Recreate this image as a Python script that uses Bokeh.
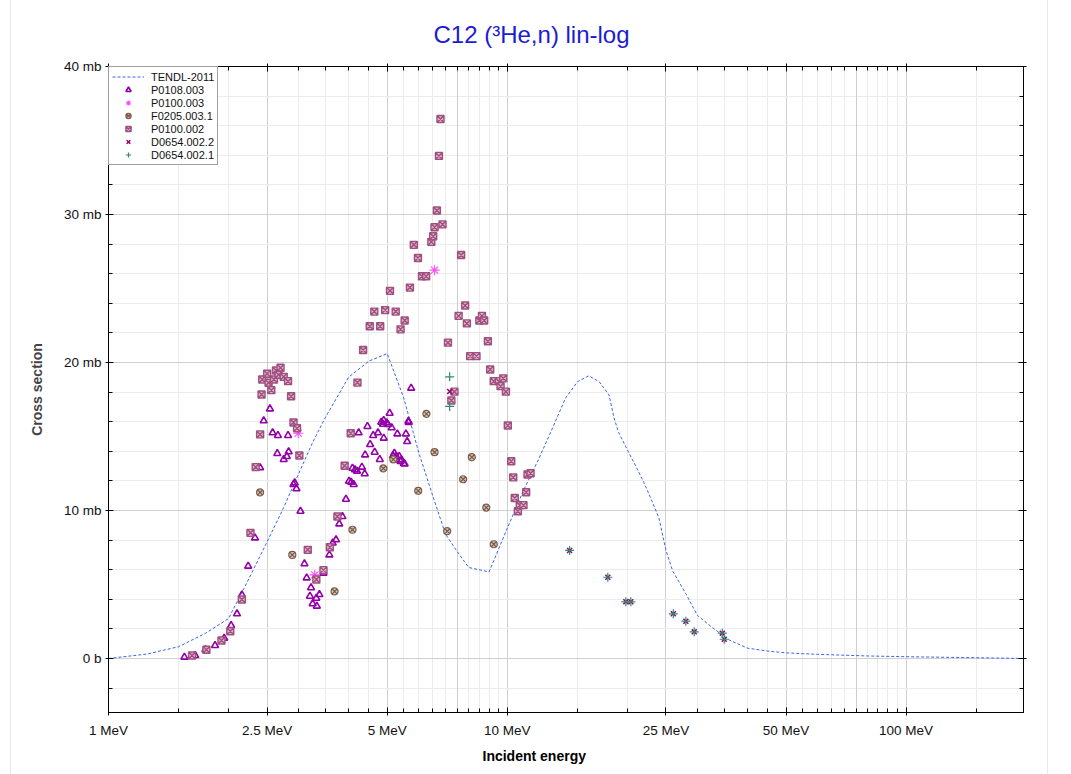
from bokeh.plotting import figure
from bokeh.models import (FixedTicker, LogAxis, LinearAxis, Grid, Legend, LegendItem,
                          Title, CustomJSTickFormatter, Range1d)
from bokeh.embed import file_html
from bokeh.resources import INLINE

FONT = "Liberation Sans"

# ---------------- data ----------------
tendl_e = [1.0, 1.25, 1.5, 1.75, 2.0, 2.25, 2.5, 2.75, 3.0, 3.25, 3.5, 4.0, 4.5, 5.0,
           5.5, 6.0, 6.5, 7.0, 7.5, 8.0, 9.0, 10.0, 11.0, 12.0, 13.0, 14.0, 15.0, 16.0,
           17.0, 18.0, 18.5, 19.0, 20.0, 21.0, 22.0, 23.0, 24.0, 25.0, 26.0, 28.0, 30.0,
           33.0, 36.0, 40.0, 45.0, 50.0, 60.0, 80.0, 100.0, 150.0, 197.0]
tendl_s = [0.0, 0.3, 0.8, 1.7, 2.7, 5.4, 7.9, 10.2, 12.5, 14.6, 16.3, 19.0, 20.1, 20.6,
           17.6, 13.9, 11.0, 8.4, 7.2, 6.15, 5.85, 8.8, 11.4, 13.5, 15.6, 17.6, 18.7, 19.1,
           18.7, 17.8, 16.3, 15.3, 14.1, 13.0, 11.9, 10.7, 9.5, 7.3, 5.9, 4.4, 2.9,
           2.0, 1.25, 0.7, 0.5, 0.38, 0.28, 0.17, 0.12, 0.05, 0.0]

p0108_003_e = [1.55, 1.65, 1.75, 1.85, 1.95, 2.03, 2.10, 2.16, 2.24, 2.33,
               2.40, 2.45, 2.54, 2.58, 2.66, 2.82, 2.65, 2.75, 2.80, 2.83,
               2.91, 2.93, 2.96, 3.03, 3.10, 3.14, 3.22, 3.20, 3.32, 3.38,
               3.25, 3.33, 3.46, 3.58, 3.65, 3.72, 3.79, 3.86, 3.94, 4.01,
               4.06, 4.12, 4.09, 4.15, 4.20, 4.32, 4.39, 4.24, 4.40, 4.46,
               4.53, 4.61, 4.65, 4.74, 4.79, 4.83, 4.88, 4.90, 4.90, 4.98,
               5.02, 5.07, 5.13, 5.17, 5.21, 5.25, 5.27, 5.30, 5.36, 5.40,
               5.43, 5.50, 5.53, 5.57, 5.61, 5.65, 5.66, 5.74]
p0108_003_s = [0.09, 0.20, 0.59, 0.88, 1.37, 2.23, 3.02, 4.30, 6.24, 8.15,
               12.90, 16.06, 16.87, 15.25, 15.07, 15.07, 13.85, 13.45, 13.65, 13.97,
               11.76, 11.87, 11.47, 9.95, 6.40, 5.45, 4.78, 4.21, 4.07, 4.32,
               3.70, 3.54, 5.77, 7.00, 7.80, 8.02, 9.10, 9.59, 10.76, 11.98,
               11.91, 11.76, 12.86, 12.75, 12.66, 12.93, 12.48, 15.25, 13.76, 15.68,
               14.46, 15.07, 13.94, 15.25, 13.45, 15.97, 15.83, 16.08, 14.89, 15.93,
               15.81, 16.57, 15.59, 13.70, 13.87, 13.42, 13.65, 15.18, 13.65, 13.31,
               13.42, 13.18, 13.15, 15.18, 14.66, 16.04, 15.95, 18.27]

p0100_003_e = [2.99, 3.29, 6.57]
p0100_003_s = [15.22, 5.65, 26.24]

f0205_003_1_e = [2.40, 2.89, 3.69, 4.09, 4.89, 5.18, 5.98, 6.27, 6.57, 7.07,
                 7.75, 8.15, 8.86, 9.25]
f0205_003_1_s = [11.22, 7.00, 4.53, 8.70, 12.84, 13.45, 11.33, 16.53, 13.94, 8.60,
                 12.11, 13.60, 10.20, 7.72]

p0100_002_e = [1.62, 1.76, 1.92, 2.02, 2.16, 2.27, 2.34, 2.40, 2.42, 2.43,
               2.50, 2.52, 2.56, 2.60, 2.63, 2.70, 2.67, 2.75, 2.82, 2.87,
               2.91, 2.97, 3.01, 3.16, 3.32, 3.46, 3.59, 3.75, 3.91, 4.05,
               4.21, 4.35, 4.52, 4.80, 4.64, 4.94, 5.25, 5.08, 5.40, 5.53,
               5.70, 5.83, 5.97, 6.11, 6.26, 6.45, 6.52, 6.57, 6.66, 6.88,
               6.74, 6.80, 7.10, 7.24, 7.37, 7.55, 7.66, 7.84, 7.92, 8.07,
               8.37, 8.51, 8.64, 8.75, 8.94, 9.06, 9.25, 9.52, 9.62, 9.77,
               9.92, 10.03, 10.23, 10.35, 10.44, 10.63, 10.75, 10.98, 11.15, 11.24,
               11.44]
p0100_002_s = [0.20, 0.59, 1.22, 1.84, 3.99, 8.49, 12.93, 15.14, 17.84, 18.85,
               19.24, 18.63, 18.13, 18.85, 19.46, 19.64, 19.17, 19.03, 18.74, 17.72,
               15.95, 15.56, 13.72, 7.34, 5.34, 5.97, 7.52, 9.59, 13.02, 15.22,
               18.64, 20.84, 22.45, 22.45, 23.44, 23.54, 23.44, 24.84, 22.24, 22.84,
               25.06, 27.95, 27.06, 25.83, 25.83, 28.15, 28.53, 29.14, 30.27, 29.33,
               33.96, 36.45, 21.34, 17.43, 18.03, 23.15, 27.26, 23.85, 22.64, 20.43,
               20.43, 22.84, 23.15, 22.84, 21.44, 19.53, 18.74, 18.74, 18.40, 18.93,
               18.03, 15.74, 13.33, 12.24, 10.84, 9.95, 10.36, 10.36, 11.23, 12.43,
               12.52]

d0654_002_2_e = [7.17, 14.33, 17.87, 19.83, 20.41, 26.08, 28.04, 29.43, 34.6, 35.0]
d0654_002_2_s = [18.04, 7.30, 5.49, 3.83, 3.83, 3.02, 2.52, 1.80, 1.71, 1.30]

d0654_002_1_e = [7.17, 7.17, 14.33, 17.87, 19.83, 20.41, 26.08, 28.04, 29.43, 34.6, 35.0]
d0654_002_1_s = [19.03, 17.03, 7.30, 5.49, 3.83, 3.83, 3.02, 2.52, 1.80, 1.71, 1.30]

x_tick_values = [1, 2.5, 5, 10, 25, 50, 100]
x_tick_labels = ["1 MeV", "2.5 MeV", "5 MeV", "10 MeV", "25 MeV", "50 MeV", "100 MeV"]
x_minor_values = [1.5, 2, 3, 3.5, 4, 4.5, 5.5, 6, 6.5, 7, 7.5, 8, 8.5, 9, 9.5,
                  15, 20, 30, 35, 40, 45, 55, 60, 65, 70, 75, 80, 85, 90, 95, 150]
x_strong_grid = [7.5, 75]
y_tick_values = [0, 10, 20, 30, 40]
y_tick_labels = ["0 b", "10 mb", "20 mb", "30 mb", "40 mb"]
y_minor_values = [-2, 2, 4, 6, 8, 12, 14, 16, 18, 22, 24, 26, 28, 32, 34, 36, 38]

# ---------------- figure ----------------
p = figure(width=1036, height=774, x_axis_type="log",
           x_range=Range1d(1, 197), y_range=Range1d(-3.65, 40),
           output_backend="svg", toolbar_location=None,
           min_border_left=97, min_border_right=24, min_border_top=66, min_border_bottom=62,
           background_fill_color="white", border_fill_color="white")
p.margin = (0, 0, 0, 11)
p.styles = {"outline": "1px solid #e8e8e8"}
p.outline_line_color = "black"
p.outline_line_width = 1

p.title.text = "C12 (\u00b3He,n) lin-log"
p.title.align = "left"
p.title.offset = 325
p.title.standoff = 32
p.title.text_font = FONT
p.title.text_font_size = "24px"
p.title.text_font_style = "normal"
p.title.text_color = "#1c1cd4"

xticker = FixedTicker(ticks=x_tick_values, minor_ticks=x_minor_values)
yticker = FixedTicker(ticks=y_tick_values, minor_ticks=y_minor_values)

def style_axis(ax):
    ax.axis_line_color = "black"
    ax.major_tick_line_color = "black"
    ax.minor_tick_line_color = "black"
    ax.major_tick_in = 5
    ax.major_tick_out = 3
    ax.minor_tick_in = 4
    ax.minor_tick_out = 0
    ax.major_label_text_font = FONT
    ax.major_label_text_font_size = "13.5px"
    ax.major_label_text_color = "#111111"

xa = p.xaxis[0]
xa.ticker = xticker
xa.major_label_overrides = dict(zip(x_tick_values, x_tick_labels))
style_axis(xa)
xa.major_label_standoff = 7

ya = p.yaxis[0]
ya.ticker = yticker
ya.major_label_overrides = dict(zip(y_tick_values, y_tick_labels))
style_axis(ya)
ya.major_label_standoff = 4
ya.axis_label = "Cross section"
ya.axis_label_text_font = FONT
ya.axis_label_text_font_size = "14px"
ya.axis_label_text_font_style = "bold"
ya.axis_label_standoff = 16

empty = CustomJSTickFormatter(code="return ''")
top = LogAxis(ticker=xticker, formatter=empty)
style_axis(top)
p.add_layout(top, "above")
right = LinearAxis(ticker=yticker, formatter=empty)
style_axis(right)
p.add_layout(right, "right")

p.add_layout(Title(text="Incident energy", align="left", offset=374,
                   text_font=FONT, text_font_size="14px", text_font_style="bold",
                   text_color="black"), "below")

# grids
p.xgrid.ticker = xticker
p.xgrid.grid_line_color = "#cfcfcf"
p.xgrid.minor_grid_line_color = "#ececec"
p.ygrid.ticker = yticker
p.ygrid.grid_line_color = "#cfcfcf"
p.ygrid.minor_grid_line_color = "#ececec"
p.add_layout(Grid(dimension=0, ticker=FixedTicker(ticks=x_strong_grid),
                  grid_line_color="#cfcfcf"))

# ---------------- renderers ----------------
r_tendl = p.line(tendl_e, tendl_s, line_color="#3a66e8", line_width=1, line_dash="3 2")
r_108 = p.scatter(p0108_003_e, p0108_003_s, marker="triangle", size=7,
                  line_color="#9400a8", line_width=1.6, fill_color="white", fill_alpha=0.0)
r_100_3 = p.scatter(p0100_003_e, p0100_003_s, marker="asterisk", size=10,
                    line_color="#ff4dff", line_width=1.1)
r_205 = p.scatter(f0205_003_1_e, f0205_003_1_s, marker="circle_x", size=7,
                  line_color="#7a5a48", line_width=1.2, fill_color="#d8c8bc")
r_100_2 = p.scatter(p0100_002_e, p0100_002_s, marker="square_x", size=7,
                    line_color="#a0507e", line_width=1.4, fill_color="#dcb4cc")
r_654_2 = p.scatter(d0654_002_2_e, d0654_002_2_s, marker="x", size=7,
                    line_color="#99006a", line_width=1.5)
r_654_1 = p.scatter(d0654_002_1_e, d0654_002_1_s, marker="cross", size=9,
                    line_color="#2e8b6e", line_width=1.2)

legend = Legend(items=[
    LegendItem(label="TENDL-2011", renderers=[r_tendl]),
    LegendItem(label="P0108.003", renderers=[r_108]),
    LegendItem(label="P0100.003", renderers=[r_100_3]),
    LegendItem(label="F0205.003.1", renderers=[r_205]),
    LegendItem(label="P0100.002", renderers=[r_100_2]),
    LegendItem(label="D0654.002.2", renderers=[r_654_2]),
    LegendItem(label="D0654.002.1", renderers=[r_654_1]),
], location="top_left")
legend.margin = 0
legend.padding = 3
legend.spacing = 0
legend.label_height = 13
legend.glyph_height = 13
legend.glyph_width = 32
legend.label_standoff = 7
legend.label_text_font = FONT
legend.label_text_font_size = "11px"
legend.label_text_color = "#111111"
legend.border_line_color = "#444444"
legend.border_line_width = 1
legend.background_fill_color = "white"
legend.background_fill_alpha = 1.0
p.add_layout(legend, "center")

open("out.html", "w").write(file_html(p, INLINE))
